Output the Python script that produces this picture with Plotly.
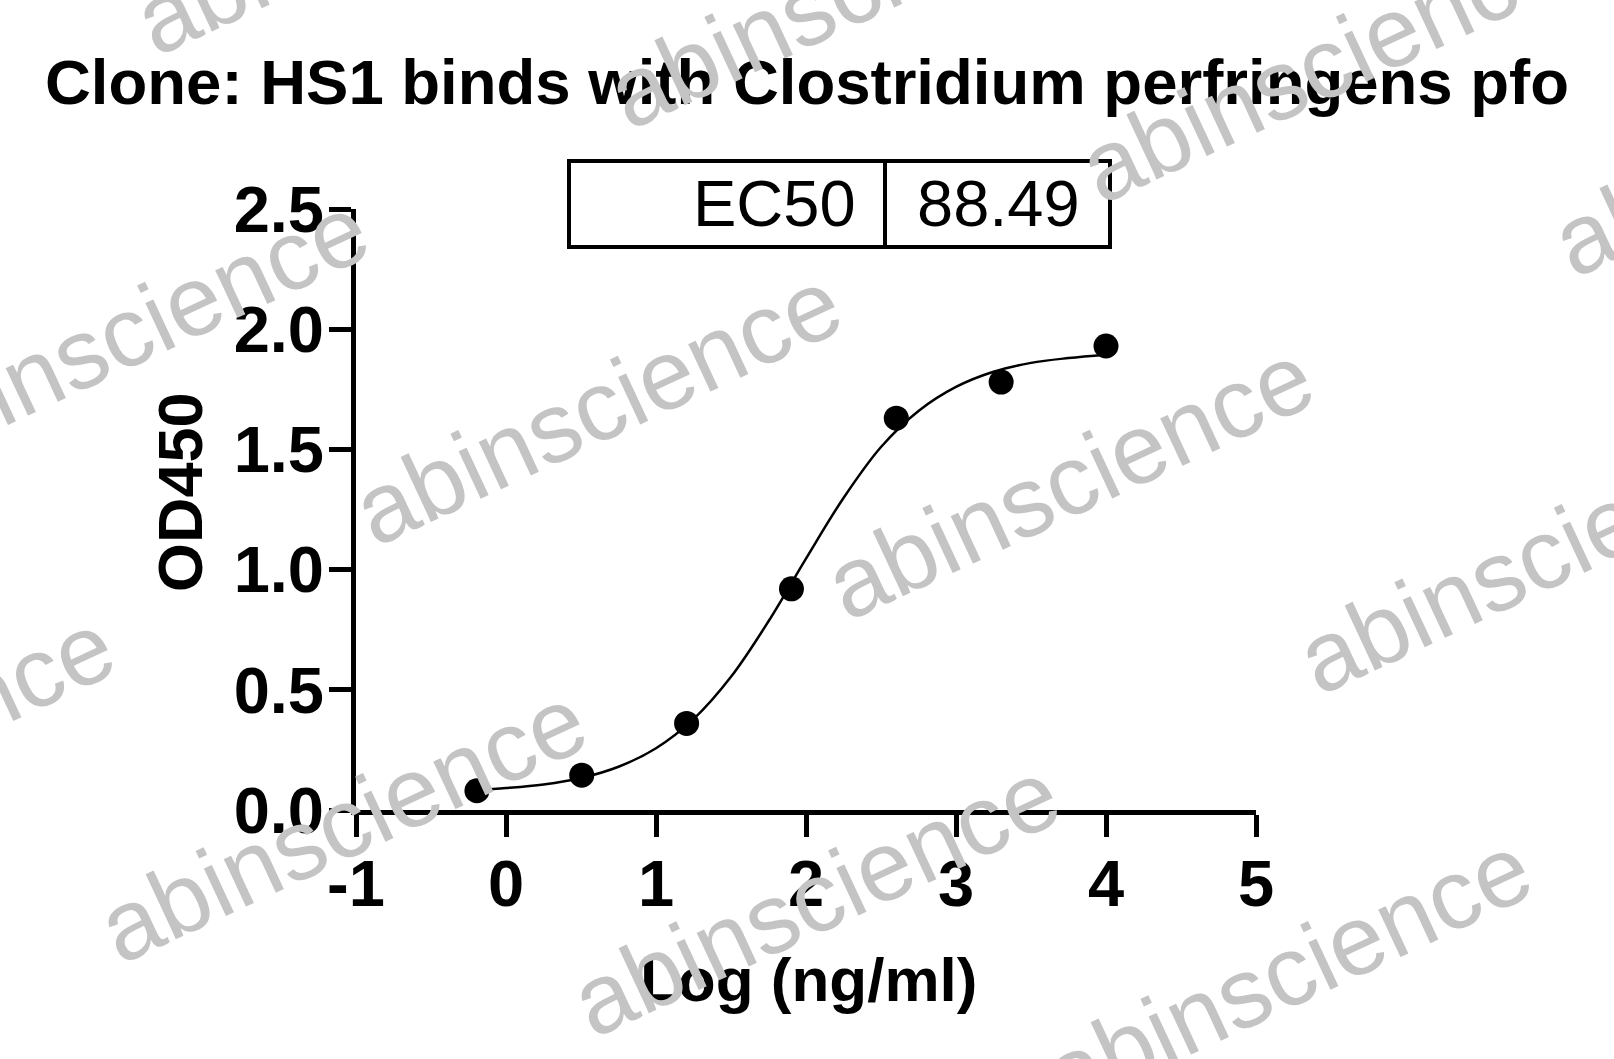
import plotly.graph_objects as go

# ---- data ----
log_conc = [-0.194, 0.505, 1.204, 1.903, 2.602, 3.301, 4.0]
od450 = [0.08, 0.145, 0.36, 0.92, 1.63, 1.78, 1.93]

fit_x = [-0.2, 0.0, 0.25, 0.5, 0.75, 1.0, 1.25, 1.5, 1.75, 2.0, 2.25, 2.5,
         2.75, 3.0, 3.25, 3.5, 3.75, 4.0]
fit_y = [0.083, 0.091, 0.106, 0.133, 0.18, 0.257, 0.378, 0.554, 0.785, 1.046,
         1.298, 1.51, 1.66, 1.76, 1.823, 1.86, 1.88, 1.894]

x_tick_vals = [-1, 0, 1, 2, 3, 4, 5]
x_tick_text = ["-1", "0", "1", "2", "3", "4", "5"]
y_tick_vals = [0, 0.5, 1.0, 1.5, 2.0, 2.5]
y_tick_text = ["0.0", "0.5", "1.0", "1.5", "2.0", "2.5"]

title_text = "Clone: HS1 binds with Clostridium perfringens pfo"
x_title = "Log (ng/ml)"
y_title = "OD450"
ec50_label = "EC50"
ec50_value = "88.49"
watermark = "abinscience"

# ---- layout geometry ----
W, H = 1614, 1059
L, R, T, B = 356, 358, 209, 249
PW, PH = W - L - R, H - T - B

def px(x):
    return (x - L) / PW

def py(y):
    return (H - B - y) / PH

FONT = "Liberation Sans, Arial, sans-serif"

fig = go.Figure()
fig.add_trace(go.Scatter(x=fit_x, y=fit_y, mode="lines", line=dict(color="black", width=2.5, shape="spline"),
                         hoverinfo="skip", showlegend=False))
fig.add_trace(go.Scatter(x=log_conc, y=od450, mode="markers", marker=dict(color="black", size=25),
                         cliponaxis=False, showlegend=False))

axis_common = dict(showline=True, linewidth=5, linecolor="black", ticks="outside", ticklen=22,
                   tickwidth=5, tickcolor="black", showgrid=False, zeroline=False,
                   tickfont=dict(family=FONT, size=65, color="black", weight="bold"))

fig.update_xaxes(range=[-1, 5], tickvals=x_tick_vals, ticktext=x_tick_text, ticklabelstandoff=-9,
                 **axis_common)
fig.update_yaxes(range=[0, 2.5], tickvals=y_tick_vals, ticktext=y_tick_text, ticklabelstandoff=-8,
                 **axis_common)

shapes = [
    dict(type="rect", xref="paper", yref="paper", x0=px(569), x1=px(1110), y0=py(247), y1=py(161),
         line=dict(color="black", width=4), fillcolor="white", layer="above"),
    dict(type="line", xref="paper", yref="paper", x0=px(885), x1=px(885), y0=py(247), y1=py(161),
         line=dict(color="black", width=4), layer="above"),
]

annotations = [
    # axis titles
    dict(text=x_title, xref="paper", yref="paper", x=px(808), y=py(979), xanchor="center", yanchor="middle",
         showarrow=False, font=dict(family=FONT, size=62, color="black", weight="bold")),
    dict(text=y_title, xref="paper", yref="paper", x=px(180), y=py(492), xanchor="center", yanchor="middle",
         showarrow=False, textangle=-90, font=dict(family=FONT, size=63, color="black", weight="bold")),
    # EC50 table
    dict(text=ec50_label, xref="paper", yref="paper", x=px(858), y=py(203), xanchor="right", yanchor="middle",
         showarrow=False, font=dict(family=FONT, size=65, color="black")),
    dict(text=ec50_value, xref="paper", yref="paper", x=px(998), y=py(203), xanchor="center", yanchor="middle",
         showarrow=False, font=dict(family=FONT, size=65, color="black")),
]

# watermark lattice (full-size pixel centres)
s = 1614 / 1568
base = (333, 800)
u = (459, 72)
v = (247, -405)
for i, j in [(-1, 0), (0, 0), (1, 0), (2, 0), (-1, 1), (0, 1), (1, 1), (2, 1),
             (-1, 2), (0, 2), (1, 2), (2, 2)]:
    cx = (base[0] + i * u[0] + j * v[0]) * s
    cy = (base[1] + i * u[1] + j * v[1]) * s
    annotations.append(dict(text=watermark, xref="paper", yref="paper", x=px(cx), y=py(cy),
                            xanchor="center", yanchor="middle", showarrow=False, textangle=-25,
                            font=dict(family=FONT, size=99, color="#c4c4c4")))

fig.update_layout(
    width=W, height=H, margin=dict(l=L, r=R, t=T, b=B, autoexpand=False),
    paper_bgcolor="white", plot_bgcolor="white",
    title=dict(text=title_text, x=0.5, xanchor="center", xref="container", y=1 - 82 / H, yanchor="middle",
               yref="container", font=dict(family=FONT, size=63.5, color="black", weight="bold")),
    shapes=shapes, annotations=annotations, showlegend=False,
)

fig.write_html("out.html", config={"displayModeBar": False},
               post_script="document.body.style.margin='0px';")
